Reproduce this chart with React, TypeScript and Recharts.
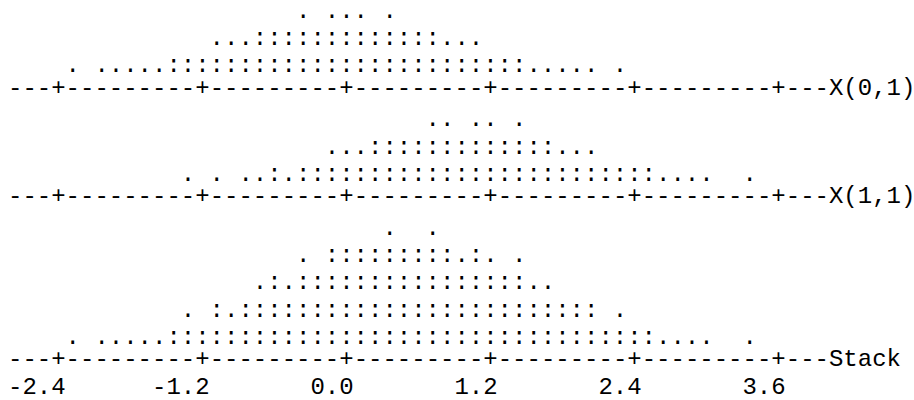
import { ScatterChart, Scatter, XAxis, YAxis, ReferenceLine } from "recharts";

// character dotplot: each column is one bin, ":" = 2 dots, "." = 1 dot
const tickValues = [-2.4, -1.2, 0.0, 1.2, 2.4, 3.6];
const binStart = -2.28; // first bin with data (column 4)
const binWidth = 0.12;
const axisStart = -2.76; // first character of the axis line
const axisChars = 57;

// counts per bin, from -2.28 up to 3.36
const x01 = [
  1, 0, 1, 1, 1, 1, 1, 2, 2, 2,
  3, 3, 3, 4, 4, 4, 5, 4, 5, 5,
  5, 4, 5, 4, 4, 4, 3, 3, 3, 2,
  2, 2, 1, 1, 1, 1, 1, 0, 1, 0,
  0, 0, 0, 0, 0, 0, 0, 0,
];
const x11 = [
  0, 0, 0, 0, 0, 0, 0, 0, 1, 0,
  1, 0, 1, 1, 2, 1, 2, 2, 3, 3,
  3, 4, 4, 4, 4, 5, 5, 4, 5, 5,
  4, 5, 4, 4, 3, 3, 3, 2, 2, 2,
  2, 1, 1, 1, 1, 0, 0, 1,
];
const stack = [
  1, 0, 1, 1, 1, 1, 1, 2, 3, 2,
  4, 3, 4, 5, 6, 5, 7, 6, 8, 8,
  8, 8, 9, 8, 8, 9, 8, 7, 8, 7,
  6, 7, 5, 5, 4, 4, 4, 2, 3, 2,
  2, 1, 1, 1, 1, 0, 0, 1,
];

const series = [
  { name: "X(0,1)", counts: x01, axisRow: 3 },
  { name: "X(1,1)", counts: x11, axisRow: 7 },
  { name: "Stack", counts: stack, axisRow: 13 },
];

const FONT = "'Courier New', 'Liberation Mono', monospace";
const CHAR_W = 14.4;

const toGlyphs = (counts: number[], axisRow: number) =>
  counts.flatMap((n, i) => {
    const out: { x: number; y: number; ch: string }[] = [];
    for (let k = 0; k * 2 < n; k++) {
      out.push({
        x: binStart + i * binWidth,
        y: axisRow - 1 - k,
        ch: n - 2 * k >= 2 ? ":" : ".",
      });
    }
    return out;
  });

const axisText = (label: string) =>
  Array.from({ length: axisChars }, (_, c) =>
    tickValues.some((t) => Math.abs(axisStart + c * binWidth - t) < 1e-6) ? "+" : "-"
  ).join("") + label;

const Glyph = (props: any) => (
  <text x={props.cx} y={props.cy} textAnchor="middle" fontFamily={FONT} fontSize={24} fill="#000">
    {props.payload.ch}
  </text>
);

const renderTick = (props: any) => (
  <text x={props.x + CHAR_W / 2} y={props.y + 14} textAnchor="end" fontFamily={FONT} fontSize={24} fill="#000">
    {Number(props.payload.value).toFixed(1)}
  </text>
);

export default function App() {
  return (
    <div style={{ position: "absolute", left: 0, top: 0, width: 914, height: 400, background: "#fff" }}>
      <ScatterChart width={914} height={400} margin={{ top: 0, right: 0, bottom: 0, left: 0 }}>
        <XAxis
          type="number"
          dataKey="x"
          domain={[-2.886667, 4.73]}
          allowDataOverflow
          ticks={tickValues}
          interval={0}
          height={20}
          axisLine={false}
          tickLine={false}
          tickSize={0}
          tickMargin={0}
          tick={renderTick}
        />
        <YAxis type="number" dataKey="y" hide reversed domain={[-0.6515, 13.3345]} allowDataOverflow />
        {series.map((s) => (
          <ReferenceLine
            key={`axis-${s.name}`}
            segment={[
              { x: axisStart - binWidth / 2, y: s.axisRow },
              { x: axisStart + (axisChars - 0.5) * binWidth, y: s.axisRow },
            ]}
            shape={(p: any) => (
              <text x={p.x1} y={p.y1 - 4.5} textAnchor="start" fontFamily={FONT} fontSize={24} fill="#000">
                {axisText(s.name)}
              </text>
            )}
          />
        ))}
        {series.map((s) => (
          <Scatter
            key={s.name}
            name={s.name}
            data={toGlyphs(s.counts, s.axisRow)}
            shape={Glyph}
            isAnimationActive={false}
          />
        ))}
      </ScatterChart>
    </div>
  );
}
